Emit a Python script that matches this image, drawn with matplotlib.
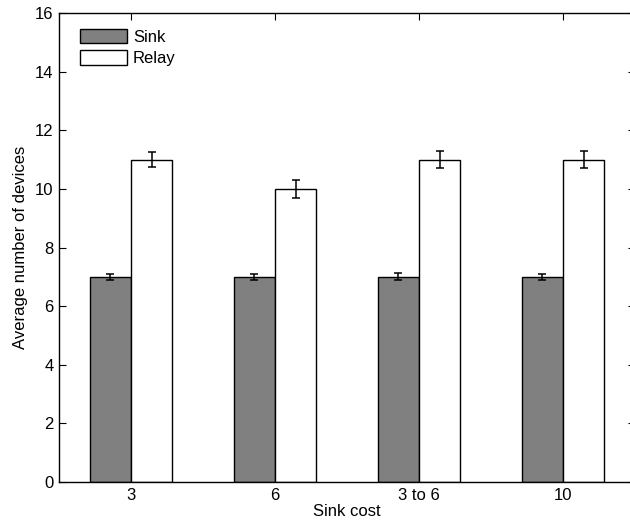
import matplotlib
matplotlib.use("Agg")
import matplotlib.pyplot as plt
import numpy as np

categories = ["3", "6", "3 to 6", "10"]
sink = [7, 7, 7, 7]
relay = [11, 10, 11, 11]
sink_err = [0.1, 0.1, 0.12, 0.1]
relay_err = [0.27, 0.3, 0.28, 0.3]

plt.rcParams['font.family'] = ['Liberation Sans', 'DejaVu Sans']
fig = plt.figure(figsize=(6.30, 5.29), dpi=100)
ax = fig.add_axes([59/630, 47/529, 576/630, 469/529])

x = np.arange(1, len(categories) + 1)
w = 0.285
ax.bar(x - w/2, sink, w, color='#808080', edgecolor='black', linewidth=1.0, label='Sink', zorder=2)
ax.bar(x + w/2, relay, w, color='white', edgecolor='black', linewidth=1.0, label='Relay', zorder=2)
ax.errorbar(x - w/2, sink, yerr=sink_err, fmt='none', ecolor='black', elinewidth=1.1, capsize=3.2, capthick=1.1, zorder=3)
ax.errorbar(x + w/2, relay, yerr=relay_err, fmt='none', ecolor='black', elinewidth=1.1, capsize=3.2, capthick=1.1, zorder=3)

ax.set_xlim(0.5, 4.5)
ax.set_ylim(0, 16)
ax.set_xticks(x)
ax.set_xticklabels(categories)
ax.set_yticks(np.arange(0, 17, 2))
ax.tick_params(direction='in', top=True, right=True, length=5, width=0.8, labelsize=12, pad=4)
for s in ax.spines.values():
    s.set_linewidth(1.0)
ax.set_xlabel('Sink cost', fontsize=12, labelpad=1)
ax.set_ylabel('Average number of devices', fontsize=12, labelpad=5)

leg = ax.legend(loc='upper left', frameon=False, fontsize=12, handlelength=2.8, handleheight=1.0,
                handletextpad=0.35, labelspacing=0.3, bbox_to_anchor=(0.0256, 0.981), borderaxespad=0)

fig.savefig('out.png', dpi=100)
